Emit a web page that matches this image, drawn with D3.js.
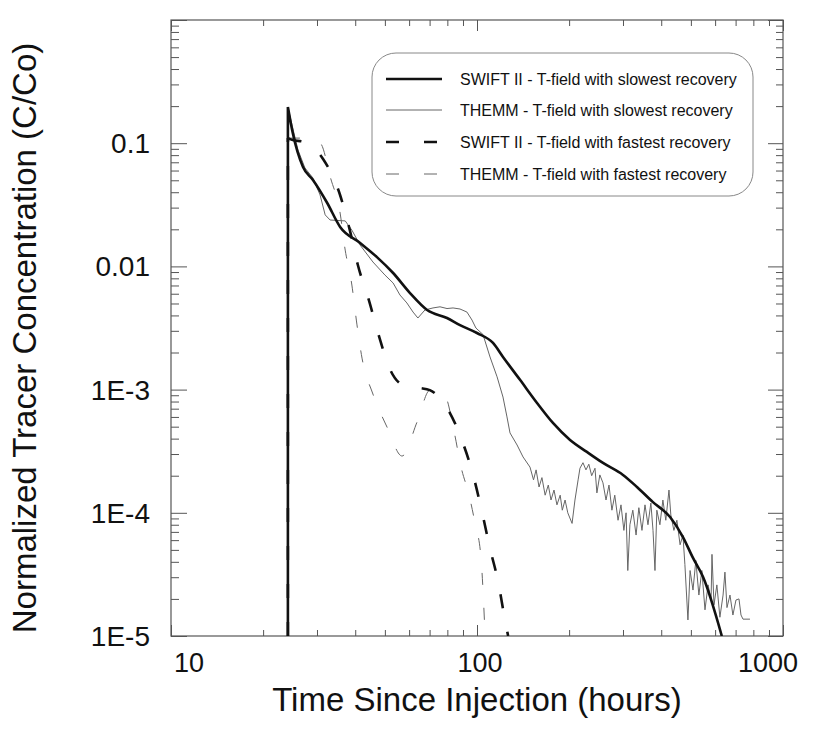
<!DOCTYPE html>
<html><head><meta charset="utf-8">
<script src="https://cdn.jsdelivr.net/npm/d3@7"></script>
<style>body{margin:0;background:#fff}svg{display:block}text{font-family:Arial,"Liberation Sans",Helvetica,sans-serif}</style>
</head><body><svg id="c" width="823" height="729"></svg>
<script>
// ---- data ----
const yTickValues = [0.1, 0.01, 1e-3, 1e-4, 1e-5];
const yTickLabels = ["0.1", "0.01", "1E-3", "1E-4", "1E-5"];
const xTickValues = [10, 100, 1000];
const xTickLabels = ["10", "100", "1000"];
const seriesNames = [
  "SWIFT II - T-field with slowest recovery",
  "THEMM - T-field with slowest recovery",
  "SWIFT II - T-field with fastest recovery",
  "THEMM - T-field with fastest recovery"
];
const swiftSlowT = [24.1, 24.1, 25.0, 27.0, 29.1, 32.4, 35.7, 41.5, 47.1, 53.2, 60.4, 68.7, 79.8, 88.0, 100, 112.8, 121.6, 138.2, 157.1, 177.1, 201.4, 228.6, 258.1, 300, 333.3, 375.8, 427.5, 471, 508, 548, 631];
const swiftSlowC = [1e-5, 0.197, 0.121, 0.0641, 0.0503, 0.0327, 0.0209, 0.0155, 0.0119, 0.00884, 0.00608, 0.00443, 0.00381, 0.00334, 0.00288, 0.00239, 0.00184, 0.00120, 7.79e-4, 5.36e-4, 3.90e-4, 3.12e-4, 2.54e-4, 2.03e-4, 1.62e-4, 1.22e-4, 9.24e-5, 6.36e-5, 4.30e-5, 3.01e-5, 1.0e-5];
const themmSlowT = [24.1, 24.86, 26.0, 27.4, 29.1, 30.7, 31.9, 33.1, 37.1, 39.0, 41.5, 45.7, 50.0, 53.2, 56.0, 59.0, 61.8, 64.1, 67.6, 71.8, 75.7, 79.8, 83.5, 88.0, 92.7, 96.3, 99.2, 104.6, 110.3, 116.3, 121.6, 125.3, 128.2, 135.2, 141.4,
  149, 153, 156, 159.5, 163, 167, 171, 174.5, 178.5, 182.5, 187, 190, 194, 198, 204.5, 209, 214, 217, 222, 227, 232, 237, 243, 246.5, 252, 258, 264, 270, 276, 282, 289, 295.5, 302, 307, 311, 316, 323, 331, 338, 346, 354, 362, 370, 376, 381.6, 387, 396, 405, 414, 424, 430, 440, 450, 461, 471, 478, 489, 497, 508, 519, 531, 543, 556, 569, 582, 586, 595, 608, 622, 637, 646, 656, 671, 686, 702, 718, 729, 740, 780];
const themmSlowC = [0.197, 0.1406, 0.0881, 0.0629, 0.0522, 0.0380, 0.0262, 0.0238, 0.0234, 0.0197, 0.0149, 0.01086, 0.00852, 0.00733, 0.00586, 0.00505, 0.00426, 0.00381, 0.00443, 0.00460, 0.00470, 0.00455, 0.00460, 0.00451, 0.00426, 0.00367, 0.00316, 0.00280, 0.00184, 0.00127, 8.7e-4, 6.0e-4, 4.45e-4, 3.55e-4, 2.84e-4,
  2.35e-4, 1.85e-4, 2.23e-4, 1.62e-4, 1.93e-4, 1.39e-4, 1.68e-4, 1.27e-4, 1.53e-4, 1.16e-4, 1.39e-4, 1.05e-4, 1.27e-4, 1.0e-4, 8.2e-5, 1.27e-4, 1.85e-4, 2.3e-4, 2.55e-4, 2.23e-4, 2.48e-4, 2.0e-4, 2.3e-4, 1.45e-4, 2.03e-4, 1.75e-4, 1.27e-4, 1.68e-4, 1.05e-4, 1.39e-4, 8.7e-5, 1.16e-4, 7.2e-5, 1.0e-4, 3.4e-5, 8.0e-5, 1.05e-4, 6.6e-5, 1.1e-4, 7.2e-5, 1.16e-4, 8.0e-5, 1.2e-4, 7.2e-5, 3.4e-5, 1.05e-4, 8.0e-5, 1.27e-4, 8.7e-5, 1.53e-4, 9.6e-5, 7.2e-5, 8.7e-5, 5.5e-5, 6.6e-5, 3.8e-5, 1.35e-5, 3.4e-5, 2.36e-5, 4.1e-5, 2.15e-5, 3.4e-5, 1.63e-5, 2.6e-5, 1.96e-5, 4.6e-5, 1.79e-5, 2.6e-5, 1.42e-5, 2.15e-5, 3.3e-5, 1.7e-5, 2.15e-5, 1.48e-5, 1.96e-5, 2.0e-5, 1.48e-5, 1.37e-5, 1.37e-5];
const swiftFastT = [24.1, 24.1, 25.0, 27.0, 31.4, 35.6, 38.4, 40.8, 44.3, 47.7, 51.9, 58.2, 65.1, 70.1, 79.1, 89.2, 97.3, 103.9, 110.2, 117.3, 123.3, 126.4];
const swiftFastC = [1e-5, 0.11, 0.106, 0.103, 0.0744, 0.0387, 0.0197, 0.01026, 0.00534, 0.00278, 0.00147, 0.00107, 0.00103, 0.00099, 7.36e-4, 3.90e-4, 1.99e-4, 1.01e-4, 5.18e-5, 2.74e-5, 1.37e-5, 1.0e-5];
const themmFastT = [24.1, 24.1, 26.4, 30.7, 33.3, 35.7, 37.0, 39.0, 40.5, 42.1, 45.7, 50.8, 56.9, 63.7, 70.2, 78.6, 84.1, 88.7, 94.2, 98.5, 103, 106.3];
const themmFastC = [1e-5, 0.11, 0.110, 0.1004, 0.0512, 0.0271, 0.0141, 0.00706, 0.0034, 0.0018, 9.2e-4, 4.97e-4, 2.89e-4, 5.46e-4, 9.9e-4, 8.87e-4, 4.61e-4, 2.35e-4, 1.39e-4, 8.26e-5, 4.38e-5, 1.0e-5];

// ---- layout ----
const L = 171, R = 783, T = 20, B = 636;
const svg = d3.select("#c");
svg.append("rect").attr("width", 823).attr("height", 729).attr("fill", "#fff");
const x = d3.scaleLog().domain([10, 1000]).range([L, R]);
const y = d3.scaleLog().domain([1e-5, 1]).range([B, T]);

svg.append("defs").append("clipPath").attr("id", "clip")
  .append("rect").attr("x", L).attr("y", T).attr("width", R - L).attr("height", B - T);

const yMinor = y.ticks().filter(v => !yTickValues.includes(v) && v !== 1);
const yMajor = [1, ...yTickValues];
const xMinor = x.ticks().filter(v => !xTickValues.includes(v));

function axisG(gen, tr) {
  const g = svg.append("g").attr("transform", tr).call(gen);
  g.select(".domain").remove();
  g.selectAll("line").attr("stroke", "#555").attr("stroke-width", 1);
  return g;
}
axisG(d3.axisRight(y).tickValues(yMinor).tickSize(8).tickFormat(""), `translate(${L},0)`);
axisG(d3.axisRight(y).tickValues(yMajor).tickSize(16).tickFormat(""), `translate(${L},0)`);
axisG(d3.axisLeft(y).tickValues(yMinor).tickSize(7).tickFormat(""), `translate(${R},0)`);
axisG(d3.axisLeft(y).tickValues(yMajor).tickSize(15).tickFormat(""), `translate(${R},0)`);
axisG(d3.axisTop(x).tickValues(xMinor).tickSize(6).tickFormat(""), `translate(0,${B})`);
axisG(d3.axisTop(x).tickValues(xTickValues).tickSize(11).tickFormat(""), `translate(0,${B})`);
axisG(d3.axisBottom(x).tickValues(xMinor).tickSize(6).tickFormat(""), `translate(0,${T})`);
axisG(d3.axisBottom(x).tickValues(xTickValues).tickSize(11).tickFormat(""), `translate(0,${T})`);

svg.append("rect").attr("x", L).attr("y", T).attr("width", R - L).attr("height", B - T)
  .attr("fill", "none").attr("stroke", "#555").attr("stroke-width", 1.2);

// tick labels
svg.append("g").selectAll("text").data(yTickValues).join("text")
  .attr("x", 150).attr("y", d => y(d)).attr("dy", "0.36em")
  .attr("text-anchor", "end").attr("font-size", 28).attr("fill", "#111")
  .text((d, i) => yTickLabels[i]);
const xLabelShift = [18, 3, -15];
svg.append("g").selectAll("text").data(xTickValues).join("text")
  .attr("x", (d, i) => x(d) + xLabelShift[i]).attr("y", 672)
  .attr("text-anchor", "middle").attr("font-size", 27).attr("fill", "#111")
  .text((d, i) => xTickLabels[i]);

// axis titles
svg.append("text").attr("x", 477).attr("y", 711).attr("text-anchor", "middle")
  .attr("font-size", 33).attr("fill", "#111").text("Time Since Injection (hours)");
svg.append("text").attr("transform", "translate(36,338) rotate(-90)").attr("text-anchor", "middle")
  .attr("font-size", 33).attr("fill", "#111").text("Normalized Tracer Concentration (C/Co)");

// series
const styles = [
  { color: "#111", width: 2.6, dash: null },
  { color: "#666", width: 1, dash: null },
  { color: "#111", width: 2.6, dash: "14,24" },
  { color: "#666", width: 1, dash: "12,23" }
];
const seriesT = [swiftSlowT, themmSlowT, swiftFastT, themmFastT];
const seriesC = [swiftSlowC, themmSlowC, swiftFastC, themmFastC];
const lineSmooth = d3.line().x(d => x(d[0])).y(d => y(d[1])).curve(d3.curveMonotoneX);
const lineLin = d3.line().x(d => x(d[0])).y(d => y(d[1]));
function pathFor(i, pts) {
  if (i === 1) return lineLin(pts);
  // first segment is the vertical rise at the arrival time, drawn straight
  return lineLin(pts.slice(0, 2)) + lineSmooth(pts.slice(1));
}
const plot = svg.append("g").attr("clip-path", "url(#clip)");
[3, 1, 2, 0].forEach(i => {
  const pts = seriesT[i].map((t, k) => [t, seriesC[i][k]]);
  plot.append("path").attr("d", pathFor(i, pts))
    .attr("fill", "none").attr("stroke", styles[i].color).attr("stroke-width", styles[i].width)
    .attr("stroke-dasharray", styles[i].dash).attr("stroke-linejoin", "round");
});

// legend
const lg = svg.append("g");
lg.append("rect").attr("x", 372).attr("y", 53).attr("width", 381).attr("height", 143)
  .attr("rx", 24).attr("ry", 24).attr("fill", "#fff").attr("stroke", "#888").attr("stroke-width", 1);
const rowY = [79, 110, 142, 174];
seriesNames.forEach((n, i) => {
  lg.append("line").attr("x1", 386).attr("x2", 442).attr("y1", rowY[i]).attr("y2", rowY[i])
    .attr("stroke", styles[i].color).attr("stroke-width", styles[i].width)
    .attr("stroke-dasharray", styles[i].dash ? "13,25" : null);
  lg.append("text").attr("x", 460).attr("y", rowY[i]).attr("dy", "0.36em")
    .attr("font-size", 16).attr("fill", "#111").text(n);
});
</script></body></html>
